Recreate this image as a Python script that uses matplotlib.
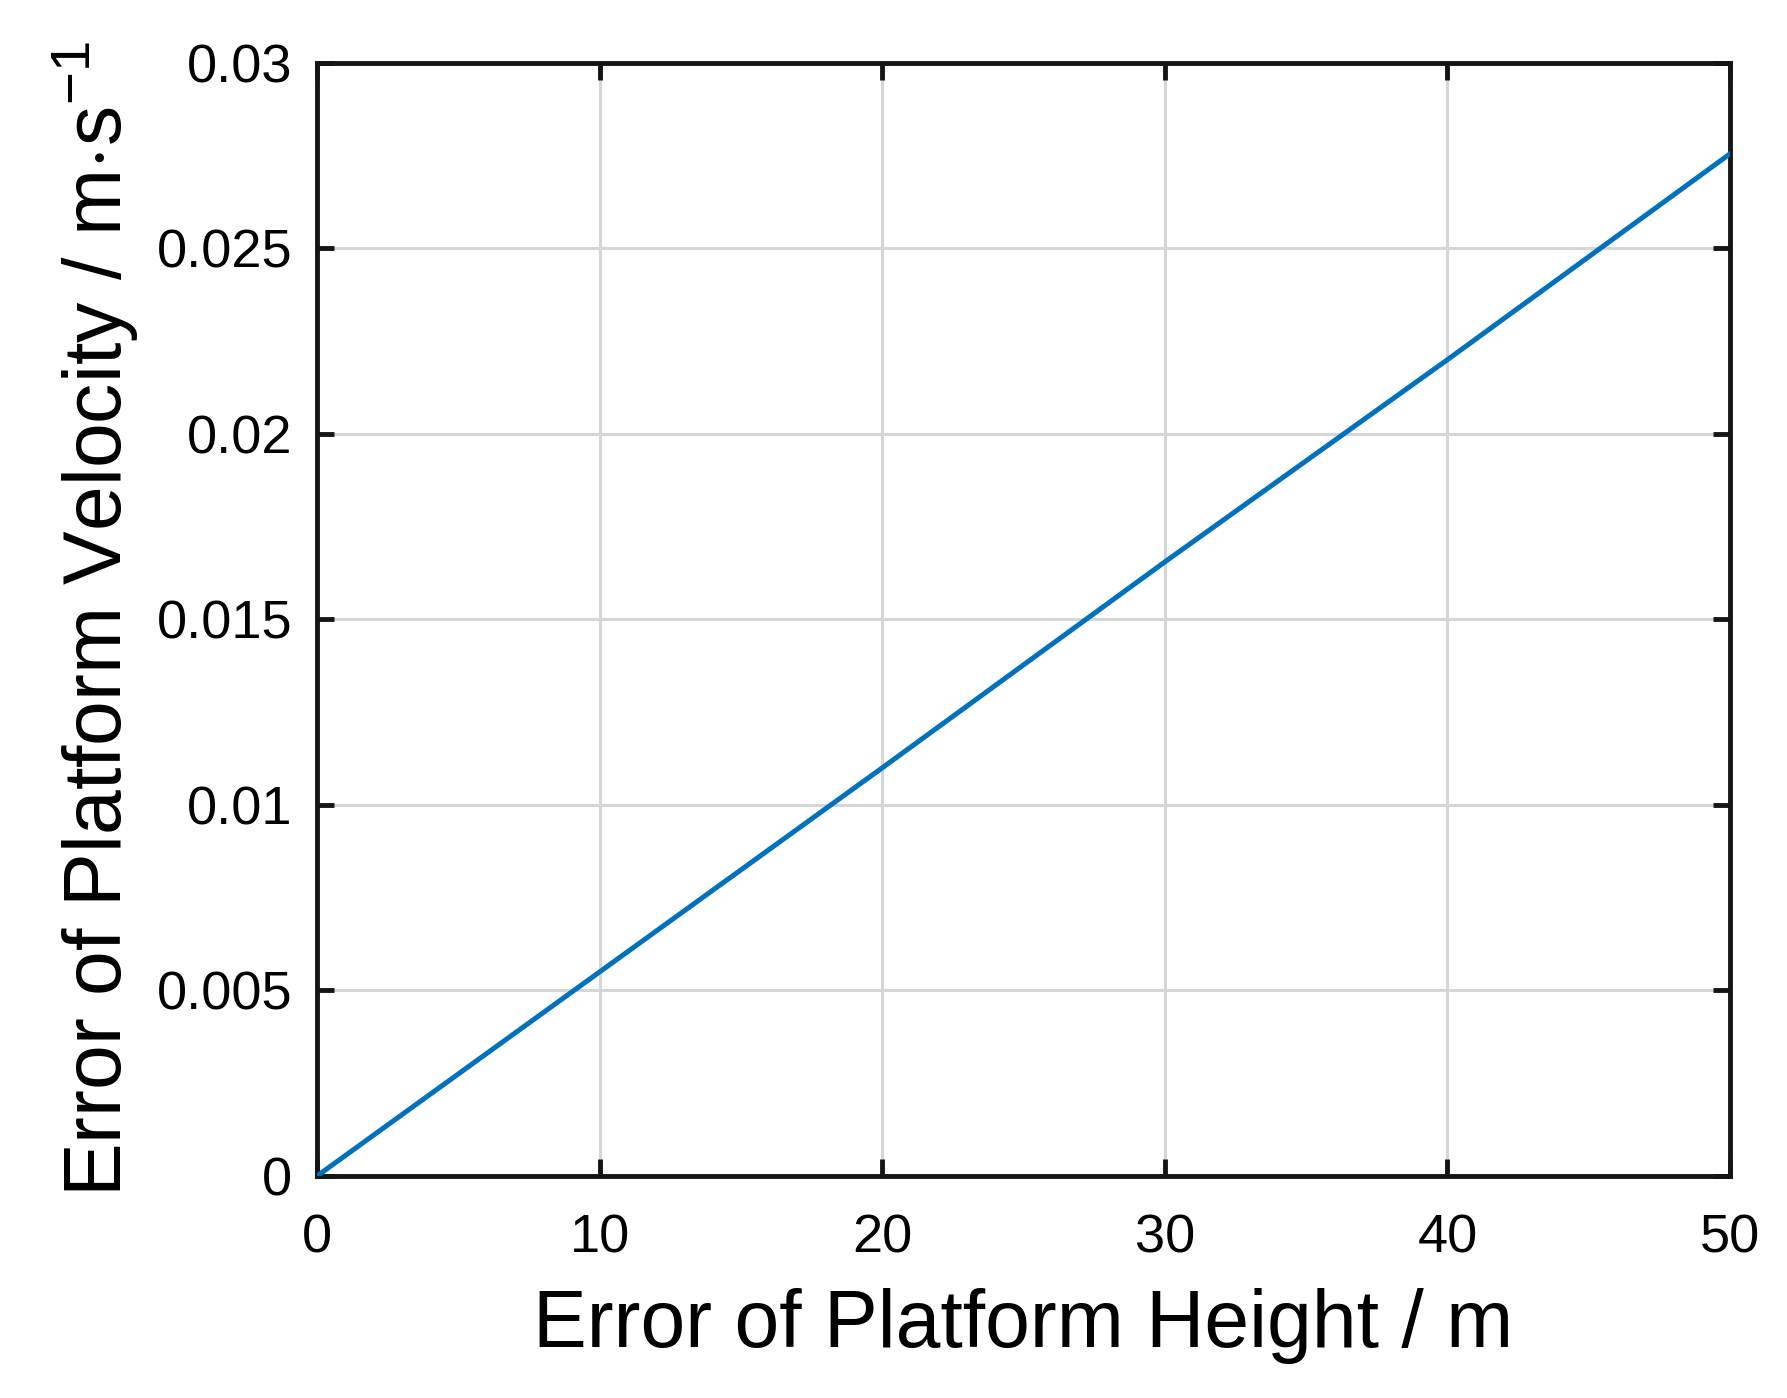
import numpy as np
import matplotlib.pyplot as plt

plt.rcParams['font.family'] = ['Liberation Sans', 'DejaVu Sans']
plt.rcParams['mathtext.fontset'] = 'custom'
plt.rcParams['mathtext.rm'] = 'Liberation Sans'
plt.rcParams['mathtext.it'] = 'Liberation Sans'

# data
height_err = [0, 10, 20, 30, 40, 50]
velocity_err = [0.0, 0.0055, 0.0110, 0.01655, 0.0220, 0.02755]

x_ticks = [0, 10, 20, 30, 40, 50]
y_ticks = [0, 0.005, 0.01, 0.015, 0.02, 0.025, 0.03]
y_ticklabels = ['0', '0.005', '0.01', '0.015', '0.02', '0.025', '0.03']

fig = plt.figure(figsize=(17.87, 13.98), dpi=100)
ax = fig.add_axes([0.1774, 0.1588, 0.7907, 0.7962])

ax.plot(height_err, velocity_err, color='#0072BD', lw=3.6, zorder=3)

ax.set_xlim(0, 50)
ax.set_ylim(0, 0.03)
ax.set_xticks(x_ticks)
ax.set_yticks(y_ticks)
ax.set_yticklabels(y_ticklabels)

ax.grid(True, color='#d6d6d6', lw=2.2)
ax.set_axisbelow(True)

for s in ax.spines.values():
    s.set_linewidth(3.5)
    s.set_color('#151515')

ax.tick_params(direction='in', length=12, width=3.5, labelsize=39,
               top=True, right=True, color='#151515')
ax.tick_params(axis='x', pad=27)
ax.tick_params(axis='y', pad=18)

ax.set_xlabel('Error of Platform Height / m', fontsize=58, labelpad=18)
ax.set_ylabel(r'Error of Platform Velocity / m$\cdot$s$^{-1}$', fontsize=58, labelpad=12)

fig.savefig('out.png', dpi=100)
